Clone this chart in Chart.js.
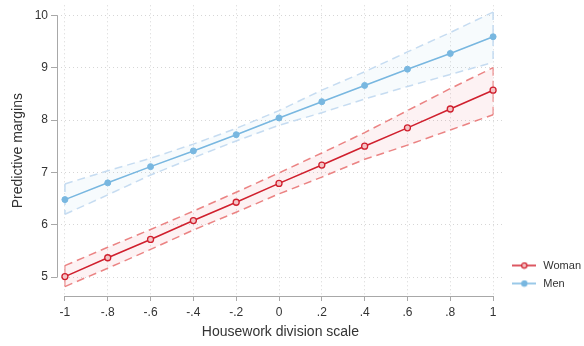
<!DOCTYPE html>
<html>
<head>
<meta charset="utf-8">
<script src="https://cdn.jsdelivr.net/npm/chart.js@4.4.1/dist/chart.umd.min.js"></script>
<style>
  html, body { margin: 0; padding: 0; background: #fff; }
  #wrap { width: 584px; height: 346px; }
</style>
</head>
<body>
<div id="wrap"><canvas id="chart"></canvas></div>
<script>
// values
const xValues = [-1, -0.8, -0.6, -0.4, -0.2, 0, 0.2, 0.4, 0.6, 0.8, 1]
const xTicks = [-1, -0.8, -0.6, -0.4, -0.2, 0, 0.2, 0.4, 0.6, 0.8, 1]
const yTicks = [5, 6, 7, 8, 9, 10]

const womanMean = [5.01, 5.37, 5.72, 6.08, 6.43, 6.79, 7.14, 7.50, 7.85, 8.21, 8.57]
const womanHigh = [5.22, 5.57, 5.91, 6.26, 6.62, 6.99, 7.37, 7.76, 8.18, 8.60, 9.00]
const womanLow = [4.82, 5.17, 5.53, 5.90, 6.24, 6.59, 6.91, 7.25, 7.52, 7.81, 8.10]

const menMean = [6.48, 6.80, 7.11, 7.41, 7.72, 8.04, 8.35, 8.66, 8.97, 9.27, 9.59]
const menHigh = [6.78, 7.03, 7.27, 7.54, 7.84, 8.18, 8.57, 8.92, 9.30, 9.67, 10.06]
const menLow = [6.20, 6.57, 6.95, 7.28, 7.60, 7.90, 8.14, 8.40, 8.64, 8.87, 9.10]

const RED = "#d0202e"
const BLUE = "#78b7e0"
const RED_CI = "rgba(232,110,110,0.85)"
const BLUE_CI = "rgba(195,218,240,0.95)"
const FONT = "'Liberation Sans', Arial, Helvetica, sans-serif"

function pts(ys) {
    return xValues.map((x, i) => ({ x: x, y: ys[i] }))
}

// closing edges of the confidence areas at both ends
function edges(hi, lo) {
    const n = xValues.length - 1
    return [
        { x: xValues[0], y: hi[0] }, { x: xValues[0], y: lo[0] }, { x: NaN, y: NaN },
        { x: xValues[n], y: hi[n] }, { x: xValues[n], y: lo[n] }
    ]
}

function ciLine(label, ys, color, fill, bg) {
    return {
        label: label,
        data: ys,
        borderColor: color,
        borderWidth: 1.5,
        borderDash: [8, 5],
        pointRadius: 0,
        spanGaps: false,
        fill: fill,
        backgroundColor: bg
    }
}

function legendKey(color, filled) {
    const c = document.createElement("canvas")
    c.width = 24
    c.height = 8
    const g = c.getContext("2d")
    g.strokeStyle = color
    g.lineWidth = 1.5
    g.beginPath()
    g.moveTo(0, 4)
    g.lineTo(24, 4)
    g.stroke()
    g.beginPath()
    g.arc(12, 4, 2.6, 0, Math.PI * 2)
    g.fillStyle = filled
    g.fill()
    g.lineWidth = 1.2
    g.stroke()
    return c
}

// axis lines only from first to last tick, like the original
const axisLines = {
    id: "axisLines",
    afterDatasetsDraw(chart) {
        const ctx = chart.ctx
        const xs = chart.scales.x
        const ys = chart.scales.y
        const area = chart.chartArea
        ctx.save()
        ctx.strokeStyle = "#a8a8a8"
        ctx.lineWidth = 1
        ctx.beginPath()
        ctx.moveTo(area.left + 0.5, ys.getPixelForValue(yTicks[0]))
        ctx.lineTo(area.left + 0.5, ys.getPixelForValue(yTicks[yTicks.length - 1]))
        ctx.moveTo(xs.getPixelForValue(xTicks[0]), area.bottom + 0.5)
        ctx.lineTo(xs.getPixelForValue(xTicks[xTicks.length - 1]), area.bottom + 0.5)
        ctx.stroke()
        ctx.restore()
    }
}

function fmt(v) {
    const r = Math.round(v * 10) / 10
    if (r === 0) return "0"
    if (Math.abs(r) === 1) return String(r)
    return (r < 0 ? "-" : "") + String(Math.abs(r)).replace(/^0/, "")
}

const chart = new Chart(document.getElementById("chart"), {
    type: "line",
    data: {
        datasets: [
            {
                label: "Woman",
                data: pts(womanMean),
                borderColor: RED,
                borderWidth: 1.6,
                pointRadius: 3,
                pointBorderWidth: 1.3,
                pointBorderColor: RED,
                pointBackgroundColor: "#f4c4c6",
                fill: false
            },
            {
                label: "Men",
                data: pts(menMean),
                borderColor: BLUE,
                borderWidth: 1.6,
                pointRadius: 3,
                pointBorderWidth: 1,
                pointBorderColor: BLUE,
                pointBackgroundColor: BLUE,
                fill: false
            },
            ciLine("Woman upper", pts(womanHigh), RED_CI, false),
            ciLine("Woman lower", pts(womanLow), RED_CI, "-1", "rgba(220,40,50,0.06)"),
            ciLine("Men upper", pts(menHigh), BLUE_CI, false),
            ciLine("Men lower", pts(menLow), BLUE_CI, "-1", "rgba(120,183,224,0.06)"),
            ciLine("Woman ends", edges(womanHigh, womanLow), "rgba(232,110,110,0.6)", false),
            ciLine("Men ends", edges(menHigh, menLow), BLUE_CI, false)
        ]
    },
    options: {
        responsive: true,
        maintainAspectRatio: false,
        devicePixelRatio: 1,
        animation: false,
        layout: { padding: { left: 0, top: 0, bottom: 0, right: -7 } },
        plugins: {
            tooltip: { enabled: false },
            legend: {
                position: "right",
                align: "end",
                fullSize: false,
                labels: {
                    usePointStyle: true,
                    pointStyleWidth: 27,
                    padding: 7,
                    color: "#333",
                    font: { family: FONT, size: 11 },
                    generateLabels: () => [
                        { text: "Woman", pointStyle: legendKey(RED, "#f4c4c6"), fontColor: "#333", lineWidth: 0, datasetIndex: 0, hidden: false },
                        { text: "Men", pointStyle: legendKey(BLUE, BLUE), fontColor: "#333", lineWidth: 0, datasetIndex: 1, hidden: false }
                    ]
                }
            }
        },
        scales: {
            x: {
                type: "linear",
                min: -1.037,
                max: 1.05,
                afterFit: (s) => { s.height = 50 },
                afterBuildTicks: (s) => { s.ticks = xTicks.map(v => ({ value: v })) },
                ticks: {
                    color: "#333",
                    padding: 4,
                    font: { family: FONT, size: 12 },
                    callback: (v) => fmt(v)
                },
                grid: {
                    color: "#d6d6d6",
                    lineWidth: 1,
                    tickLength: 5,
                    tickColor: "#a8a8a8"
                },
                border: { display: false, dash: [1, 3] },
                title: {
                    display: true,
                    text: "Housework division scale",
                    color: "#333",
                    font: { family: FONT, size: 14 },
                    padding: { top: 0, bottom: 5 }
                }
            },
            y: {
                type: "linear",
                min: 4.64,
                max: 10.19,
                afterFit: (s) => { s.width = 57; s.paddingTop = 0; s.paddingBottom = 0 },
                afterBuildTicks: (s) => { s.ticks = yTicks.map(v => ({ value: v })) },
                ticks: {
                    color: "#333",
                    padding: 3,
                    font: { family: FONT, size: 12 }
                },
                grid: {
                    color: "#d6d6d6",
                    lineWidth: 1,
                    tickLength: 6,
                    tickColor: "#a8a8a8"
                },
                border: { display: false, dash: [1, 3] },
                title: {
                    display: true,
                    text: "Predictive margins",
                    color: "#333",
                    font: { family: FONT, size: 14 },
                    padding: { top: 10, bottom: 0 }
                }
            }
        }
    },
    plugins: [axisLines]
})
</script>
</body>
</html>
